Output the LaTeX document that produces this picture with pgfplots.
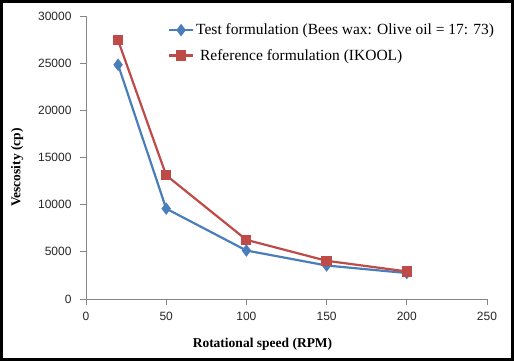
\documentclass[border=0pt]{standalone}
\usepackage{pgfplots}
\pgfplotsset{compat=1.18}
\usepackage{fontspec}
\setmainfont{Liberation Serif}
\newfontfamily\arial{Liberation Sans}
\definecolor{xlblue}{HTML}{4A7EBB}
\definecolor{xlred}{HTML}{BE4B48}
\definecolor{axgray}{HTML}{868686}
\begin{document}
\begin{tikzpicture}
\begin{axis}[
  name=main,
  scale only axis,
  width=401pt, height=283pt,
  xmin=0, xmax=250, ymin=0, ymax=30000,
  xtick={0,50,...,250}, ytick={0,5000,...,30000},
  axis x line=bottom, axis y line=left,
  axis line style={draw=axgray, line width=0.8pt, -},
  tick style={draw=axgray, line width=0.8pt},
  tick align=outside, major tick length=6pt,
  /pgf/number format/assume math mode=true,
  scaled y ticks=false,
  yticklabel style={/pgf/number format/1000 sep={}, xshift=-5pt},
  xticklabel style={yshift=-4pt},
  tick label style={font=\arial\fontsize{12}{14}\selectfont, text=black!85},
  xlabel={\textbf{Rotational speed (RPM)}},
  ylabel={\textbf{Vescosity (cp)}},
  label style={font=\fontsize{13.5}{15}\selectfont},
  xlabel style={yshift=-10pt, xshift=-24pt},
  ylabel style={yshift=8pt, xshift=-10pt},
  legend style={draw=none, fill=none, at={(0.204,0.98)}, anchor=north west,
    font=\fontsize{15.5}{17}\selectfont, row sep=9pt, inner sep=0pt},
  legend cell align=left,
  legend image code/.code={\draw[mark repeat=2,mark phase=2] plot coordinates {(0pt,0pt)(12pt,0pt)(24pt,0pt)};},
]
\addplot[color=xlblue, line width=2.2pt, mark=diamond*, mark size=4.5pt, mark options={solid, fill=xlblue}]
  coordinates {(20,24830) (50,9580) (100,5140) (150,3550) (200,2750)};
\addlegendentry{Test formulation (Bees wax: Olive oil = 17: 73)}
\addplot[color=xlred, line width=2.2pt, mark=square*, mark size=4pt, mark options={solid, fill=xlred}]
  coordinates {(20,27415) (50,13110) (100,6270) (150,4050) (200,2920)};
\addlegendentry{\ Reference formulation (IKOOL)}
\end{axis}
\draw[black, line width=3pt] ([shift={(-84.5pt,-60.5pt)}]main.south west) rectangle ([shift={(25.5pt,14.5pt)}]main.north east);
\end{tikzpicture}
\end{document}
